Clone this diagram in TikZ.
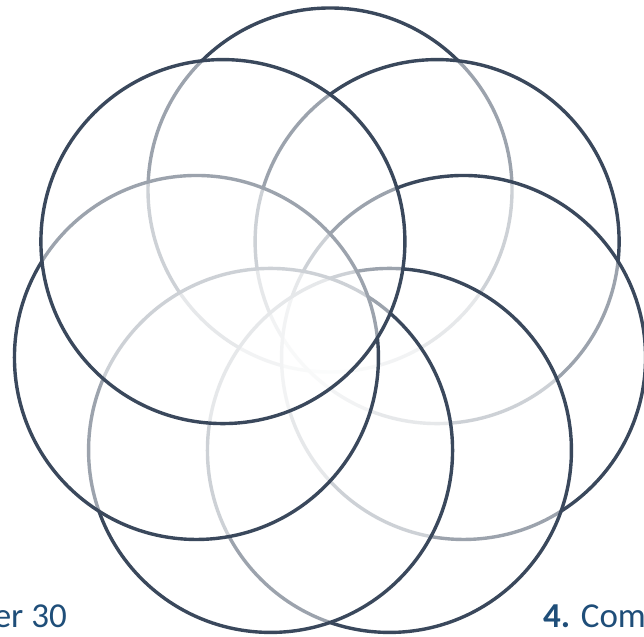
\documentclass[tikz,border=0pt]{standalone}
\usepackage{fontspec}
\setmainfont{Carlito}
\definecolor{ringdark}{HTML}{3A485C}
\definecolor{labelblue}{HTML}{1F4E79}
\tikzset{
  ring/.style={circle, draw=ringdark, line width=3.4pt, fill=white, fill opacity=0.5, minimum size=364pt, inner sep=0pt},
  caption/.style={text=labelblue, inner sep=0pt, font=\fontsize{35}{42}\selectfont}
}
\begin{document}
\begin{tikzpicture}[x=1pt, y=1pt]
\useasboundingbox (0,0) rectangle (644,636);
\clip (0,0) rectangle (644,636);
% seven rings, laid clockwise from the top; each later one veils the earlier lines
\begin{scope}[shift={(330,309)}]
\foreach \i in {0,...,6}
  \node[ring] (ring\i) at ({90-\i*360/7}:137) {};
\end{scope}
% cut-off captions along the bottom
\node[caption, anchor=base east] (dateline) at (67,9) {er 30};
\node[caption, anchor=base west] (step4) at (543,9) {\textbf{4.} Com};
\end{tikzpicture}
\end{document}
